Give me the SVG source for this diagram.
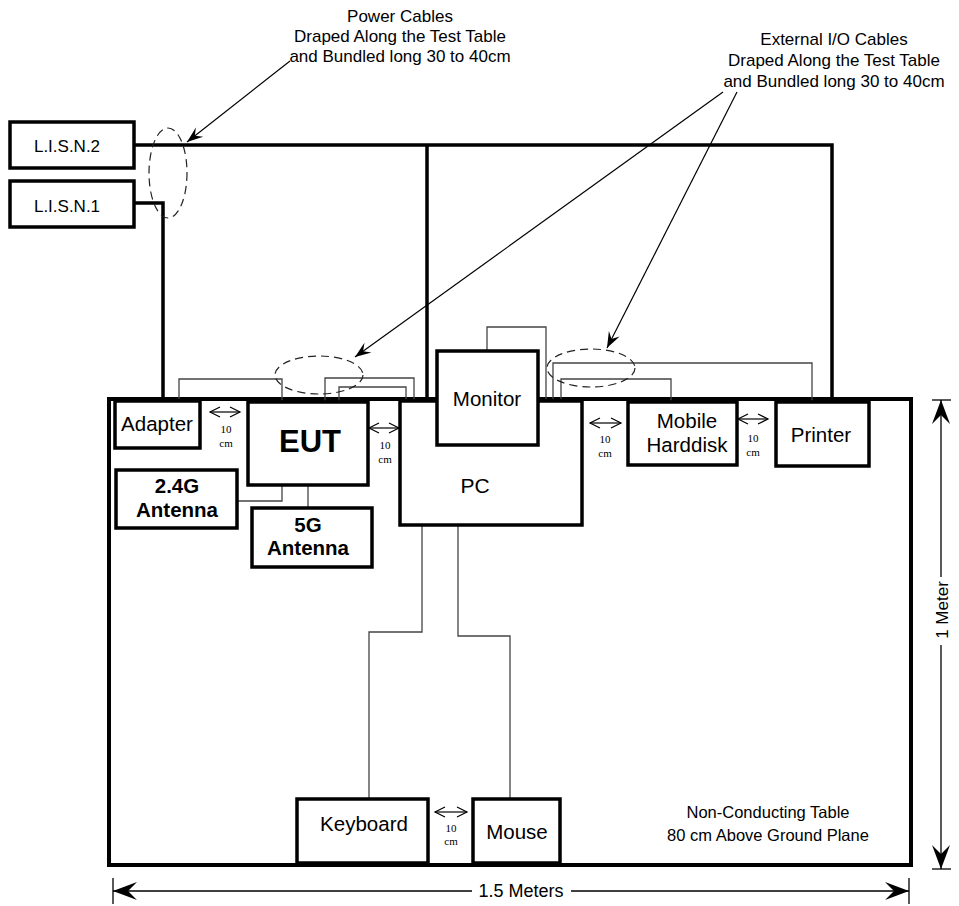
<svg xmlns="http://www.w3.org/2000/svg" width="959" height="906" viewBox="0 0 959 906">
<style>
 .box{fill:#fff;stroke:#000;stroke-width:3.5}
 .t{font-family:"Liberation Sans",Arial,sans-serif;fill:#000;text-anchor:middle}
 .lbl{font-size:20.5px}
 .note{font-size:17px}
 .bold{font-weight:bold}
 .cm{font-family:"Liberation Serif","Times New Roman",serif;font-size:11px;text-anchor:middle;fill:#000}
 .power{fill:none;stroke:#000;stroke-width:3.5}
 .cable{fill:none;stroke:#444;stroke-width:1.3}
 .dash{fill:none;stroke:#222;stroke-width:1.2;stroke-dasharray:8 5}
 .lead{fill:none;stroke:#000;stroke-width:1.2}
 .gap{fill:none;stroke:#000;stroke-width:1.2;marker-start:url(#open);marker-end:url(#open)}
 .dim{fill:none;stroke:#000;stroke-width:1.3}
</style>
<defs>
 <marker id="open" viewBox="-12 -7 14 14" refX="0" refY="0" markerWidth="14" markerHeight="14" markerUnits="userSpaceOnUse" orient="auto-start-reverse">
  <path d="M-10,-5 L0,0 L-10,5" fill="none" stroke="#000" stroke-width="1.2"/>
 </marker>
 <marker id="stealth" viewBox="-25 -11 27 22" refX="0" refY="0" markerWidth="27" markerHeight="22" markerUnits="userSpaceOnUse" orient="auto-start-reverse">
  <path d="M0,0 L-24,-9 L-15,0 L-24,9 Z" fill="#000"/>
 </marker>
 <marker id="lead" viewBox="-18 -8 20 16" refX="0" refY="0" markerWidth="20" markerHeight="16" markerUnits="userSpaceOnUse" orient="auto">
  <path d="M0,0 L-16,-6 L-10,0 L-16,6 Z" fill="#000"/>
 </marker>
</defs>

<g id="table">
 <rect x="109" y="399" width="802" height="466" fill="#fff" stroke="#000" stroke-width="4"/>
</g>

<g id="connectors">
 <!-- power cables -->
 <polyline class="power" points="134,145 832,145 832,399"/>
 <line class="power" x1="427" y1="145" x2="427" y2="399"/>
 <polyline class="power" points="134,203 163,203 163,399"/>
 <!-- I/O cables -->
 <polyline class="cable" points="179,399 179,379 282,379 282,402"/>
 <polyline class="cable" points="325,402 325,378 414,378 414,401"/>
 <polyline class="cable" points="339,402 339,387 406,387 406,401"/>
 <polyline class="cable" points="487,351 487,327 546,327 546,399"/>
 <polyline class="cable" points="553,399 553,363 812,363 812,402"/>
 <polyline class="cable" points="561,399 561,379 671,379 671,402"/>
 <polyline class="cable" points="232,501 282,501 282,486"/>
 <line class="cable" x1="308" y1="486" x2="308" y2="508"/>
 <polyline class="cable" points="422,525 422,632 369,632 369,799"/>
 <polyline class="cable" points="458,525 458,636 510,636 510,799"/>
 <!-- leader arrows -->
 <line class="lead" x1="290" y1="61" x2="187" y2="142" marker-end="url(#lead)"/>
 <line class="lead" x1="723" y1="92" x2="355" y2="357" marker-end="url(#lead)"/>
 <line class="lead" x1="737" y1="92" x2="607" y2="348" marker-end="url(#lead)"/>
 <!-- 10 cm spacing arrows -->
 <line class="gap" x1="210" y1="412" x2="240" y2="412"/>
 <line class="gap" x1="369" y1="428" x2="399" y2="428"/>
 <line class="gap" x1="590" y1="423" x2="621" y2="423"/>
 <line class="gap" x1="738" y1="419" x2="768" y2="419"/>
 <line class="gap" x1="435" y1="812" x2="467" y2="812"/>
</g>

<g id="bundles">
 <ellipse class="dash" cx="168" cy="173" rx="19" ry="45"/>
 <ellipse class="dash" cx="319" cy="375" rx="44" ry="19"/>
 <ellipse class="dash" cx="591" cy="368" rx="44" ry="19"/>
</g>

<g id="lisn2"><rect class="box" x="10" y="122" width="124" height="46"/><text class="t" x="67" y="152" font-size="17">L.I.S.N.2</text></g>
<g id="lisn1"><rect class="box" x="10" y="181" width="124" height="46"/><text class="t" x="67" y="212" font-size="17">L.I.S.N.1</text></g>
<g id="adapter"><rect class="box" x="115" y="401" width="85" height="47"/><text class="t lbl" x="157" y="431">Adapter</text></g>
<g id="eut"><rect class="box" x="248" y="402" width="120" height="83"/><text class="t bold" x="310" y="452" font-size="31">EUT</text></g>
<g id="pc"><rect class="box" x="400" y="401" width="182" height="124"/><text class="t" x="475" y="493" font-size="21">PC</text></g>
<g id="monitor"><rect class="box" x="437" y="351" width="101" height="94"/><text class="t lbl" x="487" y="406">Monitor</text></g>
<g id="harddisk"><rect class="box" x="628" y="402" width="109" height="63"/><text class="t lbl" x="687" y="428">Mobile</text><text class="t lbl" x="687" y="452">Harddisk</text></g>
<g id="printer"><rect class="box" x="776" y="402" width="93" height="64"/><text class="t lbl" x="821" y="442">Printer</text></g>
<g id="antenna24"><rect class="box" x="116" y="470" width="121" height="58"/><text class="t bold lbl" x="177" y="493">2.4G</text><text class="t bold lbl" x="177" y="517">Antenna</text></g>
<g id="antenna5"><rect class="box" x="252" y="508" width="120" height="59"/><text class="t bold lbl" x="308" y="532">5G</text><text class="t bold lbl" x="308" y="555">Antenna</text></g>
<g id="keyboard"><rect class="box" x="297" y="799" width="131" height="64"/><text class="t lbl" x="364" y="831">Keyboard</text></g>
<g id="mouse"><rect class="box" x="473" y="799" width="87" height="64"/><text class="t lbl" x="517" y="839">Mouse</text></g>

<g id="gap-labels">
 <text class="cm" x="226" y="433">10</text><text class="cm" x="226" y="447">cm</text>
 <text class="cm" x="385" y="449">10</text><text class="cm" x="385" y="463">cm</text>
 <text class="cm" x="605" y="443">10</text><text class="cm" x="605" y="457">cm</text>
 <text class="cm" x="753" y="442">10</text><text class="cm" x="753" y="456">cm</text>
 <text class="cm" x="451" y="832">10</text><text class="cm" x="451" y="845">cm</text>
</g>

<g id="notes">
 <text class="t note" x="400" y="22">Power Cables</text>
 <text class="t note" x="400" y="42">Draped Along the Test Table</text>
 <text class="t note" x="400" y="62">and Bundled long 30 to 40cm</text>
 <text class="t note" x="834" y="45">External I/O Cables</text>
 <text class="t note" x="834" y="66">Draped Along the Test Table</text>
 <text class="t note" x="834" y="87">and Bundled long 30 to 40cm</text>
 <text class="t" x="768" y="818" font-size="16.5">Non-Conducting Table</text>
 <text class="t" x="768" y="841" font-size="16.5">80 cm Above Ground Plane</text>
</g>

<g id="dimensions">
 <line class="dim" x1="932" y1="400" x2="951" y2="400"/>
 <line class="dim" x1="932" y1="869" x2="951" y2="869"/>
 <line class="dim" x1="941" y1="400" x2="941" y2="577" marker-start="url(#stealth)"/>
 <line class="dim" x1="941" y1="645" x2="941" y2="869" marker-end="url(#stealth)"/>
 <text class="t" transform="translate(948,610) rotate(-90)" font-size="17">1 Meter</text>
 <line class="dim" x1="113" y1="878" x2="113" y2="904"/>
 <line class="dim" x1="909" y1="878" x2="909" y2="904"/>
 <line class="dim" x1="113" y1="891" x2="472" y2="891" marker-start="url(#stealth)"/>
 <line class="dim" x1="571" y1="891" x2="909" y2="891" marker-end="url(#stealth)"/>
 <text class="t" x="521" y="897" font-size="18">1.5 Meters</text>
</g>
</svg>
